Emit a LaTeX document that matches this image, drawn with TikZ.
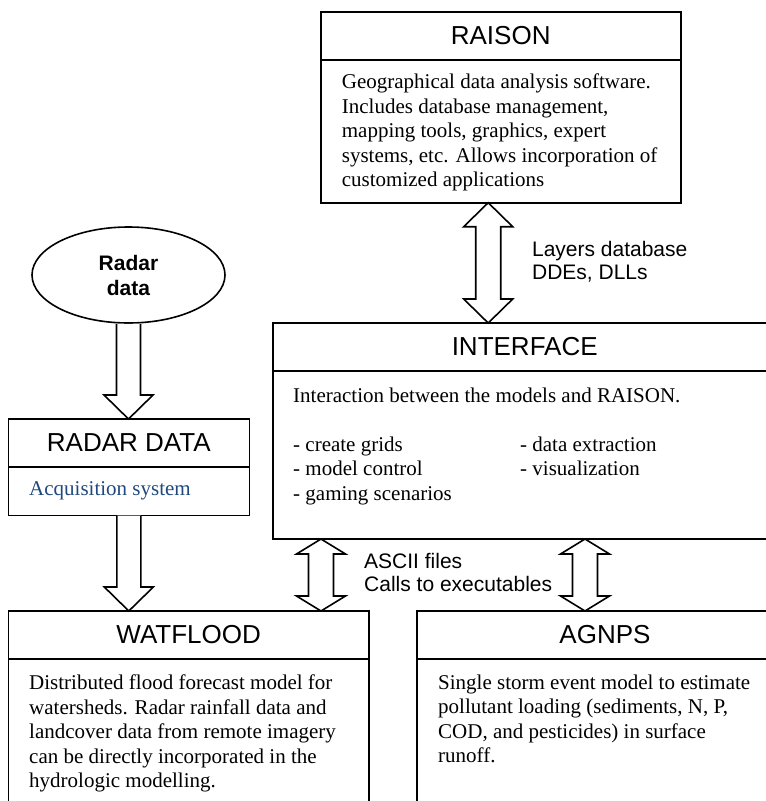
\documentclass[tikz,border=0pt]{standalone}
\usepackage{fontspec}
\setmainfont{Liberation Serif}
\setsansfont{Liberation Sans}
\usetikzlibrary{positioning, calc, shapes.geometric}
\definecolor{acqblue}{RGB}{31,73,125}

% block arrow pointing down from #1 to #2, head length #3
\newcommand{\downblock}[3]{%
  \draw[blockarrow] let \p1=(#1), \p2=(#2) in
    (\x1-12pt,\y1) -- (\x1-12pt,\y2+#3) -- (\x1-24.5pt,\y2+#3) -- (\x1,\y2)
    -- (\x1+24.5pt,\y2+#3) -- (\x1+12pt,\y2+#3) -- (\x1+12pt,\y1);}

% double block arrow between #1 (top) and #2 (bottom), head length #3
\newcommand{\dblblock}[3]{%
  \draw[blockarrow] let \p1=(#1), \p2=(#2) in
    (\x1,\y1) -- (\x1+24.5pt,\y1-#3) -- (\x1+12.5pt,\y1-#3) -- (\x1+12.5pt,\y2+#3)
    -- (\x1+24.5pt,\y2+#3) -- (\x1,\y2) -- (\x1-24.5pt,\y2+#3) -- (\x1-12.5pt,\y2+#3)
    -- (\x1-12.5pt,\y1-#3) -- (\x1-24.5pt,\y1-#3) -- cycle;}

\begin{document}
\begin{tikzpicture}[x=1pt, y=-1pt,
  boxbody/.style={draw, line width=1.6pt, rectangle, inner sep=0, outer sep=0, anchor=north west},
  boxtitle/.style={boxbody, minimum height=48pt, font=\sffamily\fontsize{26}{30}\selectfont},
  bodytext/.style={inner sep=0, anchor=north west, align=left, font=\fontsize{21}{24.5}\selectfont},
  linklabel/.style={inner sep=0, anchor=north west, align=left, font=\sffamily\fontsize{21}{23.5}\selectfont},
  blockarrow/.style={draw, line width=1.6pt, fill=white, line join=miter},
  ]

  \useasboundingbox (0,0) rectangle (766,801);
  \clip (0,0) rectangle (766,801);

  % RAISON
  \node[boxtitle, minimum width=360pt] (raison) at (320.7,11.7) {RAISON};
  \node[boxbody, minimum width=360pt, minimum height=143pt, below right=0pt and 0pt of raison.south west] (raisonbody) {};
  \node[bodytext, below right=14.2pt and 21pt of raisonbody.north west] (raisontext)
    {Geographical data analysis software.\\
     Includes database management,\\
     mapping tools, graphics, expert\\
     systems, etc. Allows incorporation of\\
     customized applications};

  % Interface
  \node[boxtitle, minimum width=504pt] (iface) at (272.7,323) {INTERFACE};
  \node[boxbody, minimum width=504pt, minimum height=168pt, below right=0pt and 0pt of iface.south west] (ifacebody) {};
  \node[bodytext, below right=13.8pt and 20.3pt of ifacebody.north west] (ifacetext)
    {\begin{tabular}{@{}p{227pt}@{}l@{}}
       \multicolumn{2}{@{}l@{}}{Interaction between the models and RAISON.}\\
       & \\
       - create grids & - data extraction\\
       - model control & - visualization\\
       - gaming scenarios &
     \end{tabular}};

  % Radar
  \node[ellipse, draw, line width=1.6pt, minimum width=193pt, minimum height=96pt, inner sep=0,
    align=center, font=\sffamily\bfseries\fontsize{21}{25}\selectfont] (radar) at (128.5,275) {Radar\\data};
  \node[boxtitle, minimum width=241pt] (rdtitle) at (8.3,419) {RADAR DATA};
  \node[boxbody, minimum width=241pt, minimum height=48.5pt, below right=0pt and 0pt of rdtitle.south west] (rdbody) {};
  \node[bodytext, text=acqblue, below right=14.8pt and 20.7pt of rdbody.north west] (rdtext) {Acquisition system};

  % Models
  \node[boxtitle, minimum width=360.7pt] (wat) at (8.3,611) {WATFLOOD};
  \node[boxbody, minimum width=360.7pt, minimum height=200pt, below right=0pt and 0pt of wat.south west] (watbody) {};
  \node[bodytext, below right=15.7pt and 20.7pt of watbody.north west] (wattext)
    {Distributed flood forecast model for\\
     watersheds. Radar rainfall data and\\
     landcover data from remote imagery\\
     can be directly incorporated in the\\
     hydrologic modelling.};

  \node[boxtitle, minimum width=376pt] (agnps) at (417,611) {AGNPS};
  \node[boxbody, minimum width=376pt, minimum height=200pt, below right=0pt and 0pt of agnps.south west] (agnpsbody) {};
  \node[bodytext, below right=15.7pt and 21pt of agnpsbody.north west] (agnpstext)
    {Single storm event model to estimate\\
     pollutant loading (sediments, N, P,\\
     COD, and pesticides) in surface\\
     runoff.};

  % Block arrows
  \downblock{radar.south}{rdtitle.north}{24pt}
  \downblock{rdbody.south}{wat.north}{24pt}

  \coordinate (rtop) at ($(raisonbody.south)+(-12.5,0)$);
  \coordinate (wtop) at ($(ifacebody.south west)+(48.3,0)$);
  \coordinate (atop) at ($(ifacebody.south west)+(312.3,0)$);
  \dblblock{rtop}{rtop |- iface.north}{24pt}
  \dblblock{wtop}{wtop |- wat.north}{15pt}
  \dblblock{atop}{atop |- agnps.north}{15pt}

  \node[linklabel, below right=38.3pt and 43.7pt of rtop] (layers) {Layers database\\DDEs, DLLs};
  \node[linklabel, below right=14pt and 43pt of wtop] (ascii) {ASCII files\\Calls to executables};

\end{tikzpicture}
\end{document}
